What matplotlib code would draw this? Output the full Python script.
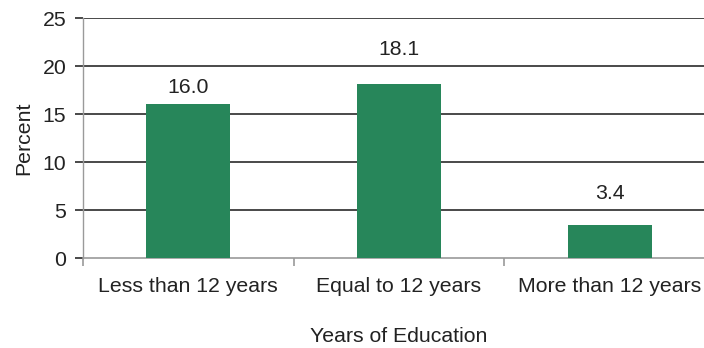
import matplotlib.pyplot as plt
import numpy as np

plt.rcParams['font.family'] = ['Liberation Sans', 'DejaVu Sans']

categories = ["Less than 12 years", "Equal to 12 years", "More than 12 years"]
values = [16.0, 18.1, 3.4]
yticks = [0, 5, 10, 15, 20, 25]

green = '#27865a'
grid = '#3a3a3a'
spine = '#9a9a9a'
text = '#222222'
fs = 15.3

fig = plt.figure(figsize=(7.04, 3.48), dpi=100)
# axes runs a little past the right edge of the figure
ax = fig.add_axes([83 / 704, 1 - 258 / 348, 632 / 704, 240 / 348])

x = np.arange(len(categories))
bars = ax.bar(x, values, width=0.4, color=green, zorder=3)

ax.set_xlim(-0.5, len(categories) - 0.5)
ax.set_ylim(0, 25)
ax.set_yticks(yticks)
for y in yticks[1:]:
    ax.axhline(y, color=grid, lw=1.3, zorder=1)

ax.set_xticks(x)
ax.set_xticklabels(categories, fontsize=fs, color=text)
ax.tick_params(axis='x', length=0, pad=14)
ax.set_xticks(np.arange(len(categories) + 1) - 0.5, minor=True)
ax.tick_params(axis='x', which='minor', length=6, width=1.2, color=spine)
ax.tick_params(axis='y', length=6, width=1.3, color=grid, labelsize=fs,
               labelcolor=text, pad=6)

for s in ['top', 'right']:
    ax.spines[s].set_visible(False)
ax.spines['left'].set_color(spine)
ax.spines['bottom'].set_color(spine)
ax.spines['left'].set_linewidth(1.0)
ax.spines['bottom'].set_linewidth(1.2)

# value labels sit above the bar, or above the gridline just over it
for b, v in zip(bars, values):
    nxt = np.ceil(v / 5) * 5
    anchor = nxt if nxt - v < 2.5 else v
    ax.annotate(f"{v:.1f}", (b.get_x() + b.get_width() / 2, anchor),
                xytext=(0, 8), textcoords='offset points',
                ha='center', va='baseline', fontsize=fs, color=text)

ax.set_ylabel("Percent", fontsize=fs, color=text, labelpad=7)
ax.set_xlabel("Years of Education", fontsize=fs, color=text, labelpad=22)

fig.savefig("out.png", dpi=100)
